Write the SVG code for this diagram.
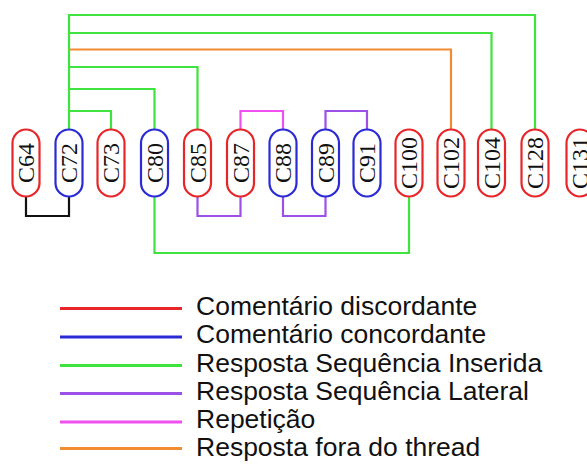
<svg xmlns="http://www.w3.org/2000/svg" width="587" height="464" viewBox="0 0 587 464">
  <style>
    .node rect { fill: #fff; stroke-width: 2.2; }
    .disc rect { stroke: #e8262a; }
    .conc rect { stroke: #2b2bd6; }
    .node text { font-family: "Liberation Serif", "Times New Roman", serif; font-size: 24px; fill: #111; text-anchor: middle; }
    .edge { fill: none; stroke-width: 2.2; }
    .ins { stroke: #3ee33e; }
    .lat { stroke: #9b50e6; }
    .rep { stroke: #f050f0; }
    .out { stroke: #f28c32; }
    .blk { stroke: #111; }
    .legend text { font-family: "Liberation Sans", Arial, sans-serif; font-size: 26.5px; fill: #111; }
    .legend line { stroke-width: 3; }
  </style>

  <!-- connectors -->
  <g id="connectors">
    <polyline class="edge ins" points="69,129.5 69,15 535,15 535,129.5"/>
    <polyline class="edge ins" points="69,33 491.5,33 491.5,129.5"/>
    <polyline class="edge out" points="69,49.5 451,49.5 451,129.5"/>
    <polyline class="edge ins" points="69,67 197.5,67 197.5,129.5"/>
    <polyline class="edge ins" points="69,89 154.5,89 154.5,129.5"/>
    <polyline class="edge ins" points="69,111 111,111 111,129.5"/>
    <polyline class="edge rep" points="240.5,129.5 240.5,111 283,111 283,129.5"/>
    <polyline class="edge lat" points="325.5,129.5 325.5,111 367,111 367,129.5"/>
    <polyline class="edge blk" points="26,196.5 26,216 69,216 69,196.5"/>
    <polyline class="edge lat" points="197.5,196.5 197.5,216 240.5,216 240.5,196.5"/>
    <polyline class="edge lat" points="283,196.5 283,216 325.5,216 325.5,196.5"/>
    <polyline class="edge ins" points="154.5,196.5 154.5,253 409,253 409,196.5"/>
  </g>

  <!-- comment nodes -->
  <g id="C64" class="node disc"><rect x="12.5" y="129.5" width="27" height="67" rx="13.5"/><text transform="translate(26,163) rotate(-90)" y="8">C64</text></g>
  <g id="C72" class="node conc"><rect x="55.5" y="129.5" width="27" height="67" rx="13.5"/><text transform="translate(69,163) rotate(-90)" y="8">C72</text></g>
  <g id="C73" class="node disc"><rect x="97.5" y="129.5" width="27" height="67" rx="13.5"/><text transform="translate(111,163) rotate(-90)" y="8">C73</text></g>
  <g id="C80" class="node conc"><rect x="141" y="129.5" width="27" height="67" rx="13.5"/><text transform="translate(154.5,163) rotate(-90)" y="8">C80</text></g>
  <g id="C85" class="node disc"><rect x="184" y="129.5" width="27" height="67" rx="13.5"/><text transform="translate(197.5,163) rotate(-90)" y="8">C85</text></g>
  <g id="C87" class="node disc"><rect x="227" y="129.5" width="27" height="67" rx="13.5"/><text transform="translate(240.5,163) rotate(-90)" y="8">C87</text></g>
  <g id="C88" class="node conc"><rect x="269.5" y="129.5" width="27" height="67" rx="13.5"/><text transform="translate(283,163) rotate(-90)" y="8">C88</text></g>
  <g id="C89" class="node conc"><rect x="312" y="129.5" width="27" height="67" rx="13.5"/><text transform="translate(325.5,163) rotate(-90)" y="8">C89</text></g>
  <g id="C91" class="node conc"><rect x="353.5" y="129.5" width="27" height="67" rx="13.5"/><text transform="translate(367,163) rotate(-90)" y="8">C91</text></g>
  <g id="C100" class="node disc"><rect x="395.5" y="129.5" width="27" height="67" rx="13.5"/><text transform="translate(409,163) rotate(-90)" y="8">C100</text></g>
  <g id="C102" class="node disc"><rect x="437.5" y="129.5" width="27" height="67" rx="13.5"/><text transform="translate(451,163) rotate(-90)" y="8">C102</text></g>
  <g id="C104" class="node disc"><rect x="478" y="129.5" width="27" height="67" rx="13.5"/><text transform="translate(491.5,163) rotate(-90)" y="8">C104</text></g>
  <g id="C128" class="node disc"><rect x="521.5" y="129.5" width="27" height="67" rx="13.5"/><text transform="translate(535,163) rotate(-90)" y="8">C128</text></g>
  <g id="C131" class="node disc"><rect x="566.5" y="129.5" width="27" height="67" rx="13.5"/><text transform="translate(580,163) rotate(-90)" y="8">C131</text></g>

  <!-- legend -->
  <g id="legend" class="legend">
    <line x1="60" y1="308.5" x2="182" y2="308.5" stroke="#e8262a"/>
    <text x="196" y="315">Comentário discordante</text>
    <line x1="60" y1="337" x2="182" y2="337" stroke="#2b2bd6"/>
    <text x="196" y="343">Comentário concordante</text>
    <line x1="60" y1="365.5" x2="182" y2="365.5" stroke="#3ee33e"/>
    <text x="196" y="372">Resposta Sequência Inserida</text>
    <line x1="60" y1="393.5" x2="182" y2="393.5" stroke="#9b50e6"/>
    <text x="196" y="400">Resposta Sequência Lateral</text>
    <line x1="60" y1="422" x2="182" y2="422" stroke="#f050f0"/>
    <text x="196" y="428">Repetição</text>
    <line x1="60" y1="448.5" x2="182" y2="448.5" stroke="#f28c32"/>
    <text x="196" y="456">Resposta fora do thread</text>
  </g>
</svg>
